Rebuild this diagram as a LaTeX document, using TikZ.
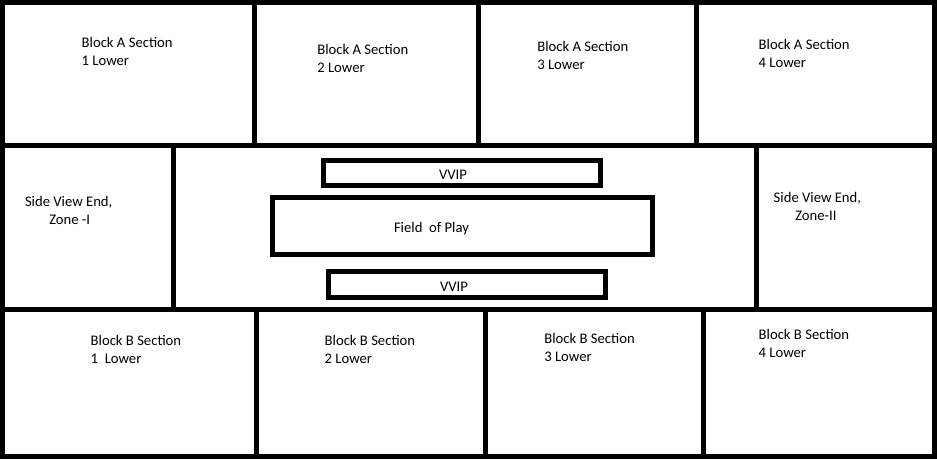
\documentclass[tikz,border=0pt]{standalone}
\usepackage{fontspec}
\setmainfont{Carlito}
\begin{document}
\begin{tikzpicture}[x=1pt,y=-1pt,
  wall/.style={line width=5pt, line cap=rect},
  lbl/.style={inner sep=0pt, outer sep=0pt, anchor=base west, align=left,
    font=\fontsize{14.67}{18}\selectfont}]
\useasboundingbox (0,0) rectangle (937,459);
% outer frame and row dividers
\draw[wall] (2.5,2.5) rectangle (934.5,456.5);
\draw[wall] (2.5,145.5) -- (934.5,145.5);
\draw[wall] (2.5,309.5) -- (934.5,309.5);
% top row dividers
\draw[wall] (254.5,2.5) -- (254.5,145.5);
\draw[wall] (478,2.5) -- (478,145.5);
\draw[wall] (696.5,2.5) -- (696.5,145.5);
% middle row dividers
\draw[wall] (173.5,145.5) -- (173.5,309.5);
\draw[wall] (756.5,145.5) -- (756.5,309.5);
% bottom row dividers
\draw[wall] (256.5,309.5) -- (256.5,456.5);
\draw[wall] (485.5,309.5) -- (485.5,456.5);
\draw[wall] (703.5,309.5) -- (703.5,456.5);
% inner boxes
\draw[wall] (323.5,160.5) rectangle (600.5,185.5);
\draw[wall] (272.5,197.5) rectangle (652.5,254.5);
\draw[wall] (328.5,271.5) rectangle (605.5,297.5);
% labels (base anchor = baseline of the last line)
\node[lbl] (a1) at (81.7,65.5) {Block A Section\\1 Lower};
\node[lbl] (a2) at (317.3,72) {Block A Section\\2 Lower};
\node[lbl] (a3) at (537.3,69.7) {Block A Section\\3 Lower};
\node[lbl] (a4) at (758.7,67.3) {Block A Section\\4 Lower};
\node[lbl] (z1) at (25,224.7) {Side View End,\\\hspace*{24.3pt}Zone -I};
\node[lbl] (z2) at (773.7,220.7) {Side View End,\\\hspace*{21.6pt}Zone-II};
\node[lbl] (v1) at (439,179) {VVIP};
\node[lbl] (fp) at (394,232.5) {Field\ \ of Play};
\node[lbl] (v2) at (440,291) {VVIP};
\node[lbl] (b1) at (90.7,363) {Block B Section\\1\ \ Lower};
\node[lbl] (b2) at (324.7,363.7) {Block B Section\\2 Lower};
\node[lbl] (b3) at (544.3,361) {Block B Section\\3 Lower};
\node[lbl] (b4) at (758.7,357) {Block B Section\\4 Lower};
\end{tikzpicture}
\end{document}
